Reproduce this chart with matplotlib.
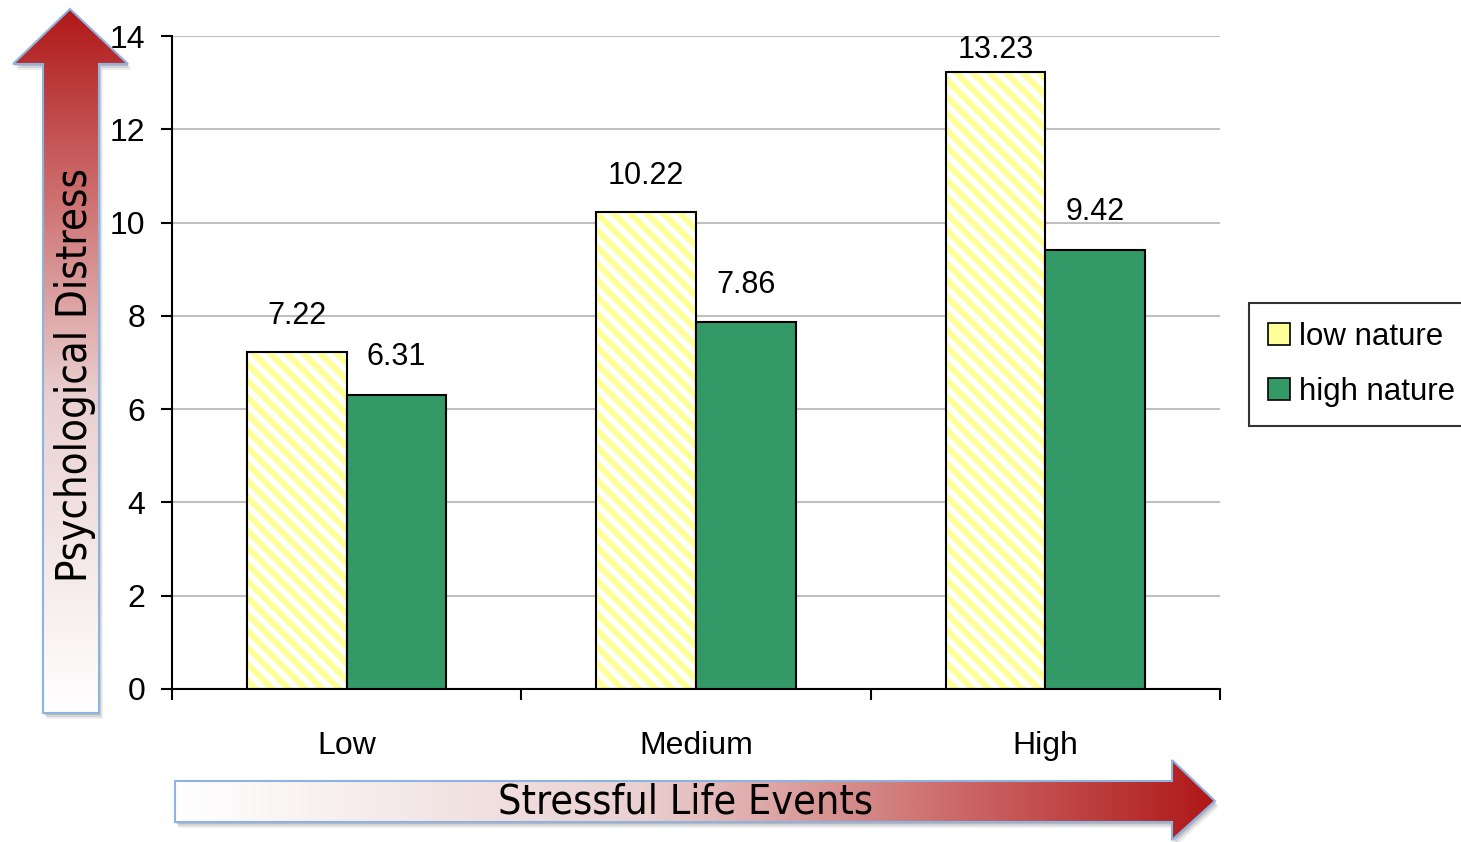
import matplotlib as mpl
mpl.use("Agg")
import matplotlib.pyplot as plt
import numpy as np
from matplotlib.patches import Polygon, Patch
from matplotlib.colors import LinearSegmentedColormap

# Data
categories = ["Low", "Medium", "High"]
low_nature = [7.22, 10.22, 13.23]
high_nature = [6.31, 7.86, 9.42]
yticks = [0, 2, 4, 6, 8, 10, 12, 14]

yellow = "#ffff99"
green = "#339966"

plt.rcParams["font.family"] = ["Liberation Sans", "DejaVu Sans"]
plt.rcParams["hatch.linewidth"] = 4.5

fig = plt.figure(figsize=(14.61, 8.42), dpi=100)

# background layer in pixel units for the two gradient arrows
bg = fig.add_axes([0, 0, 1, 1], zorder=0)
bg.set_xlim(0, 1461)
bg.set_ylim(842, 0)
bg.axis("off")

red_fade = LinearSegmentedColormap.from_list(
    "red_fade", [(0, "#ffffff"), (0.45, "#ead0d0"), (0.75, "#cc6a6a"), (1, "#b01818")])


def gradient_arrow(pts, horizontal):
    pts = np.array(pts, float)
    for k, a in [(6, 0.12), (4, 0.2), (2, 0.25)]:
        bg.add_patch(Polygon(pts + [k * 0.6, k], closed=True, fc="#707070",
                             ec="none", alpha=a, zorder=1))
    body = Polygon(pts, closed=True, fc="white", ec="none", zorder=2)
    bg.add_patch(body)
    x0, x1 = pts[:, 0].min(), pts[:, 0].max()
    y0, y1 = pts[:, 1].min(), pts[:, 1].max()
    ramp = np.linspace(0, 1, 256)
    grad = ramp[None, :] if horizontal else ramp[::-1, None]
    im = bg.imshow(grad, cmap=red_fade, extent=(x0, x1, y1, y0), origin="upper",
                   aspect="auto", interpolation="bicubic", zorder=3)
    im.set_clip_path(body)
    bg.add_patch(Polygon(pts, closed=True, fc="none", ec="#8db3e2", lw=1.5, zorder=4))
    bg.set_xlim(0, 1461)
    bg.set_ylim(842, 0)


# vertical arrow (y axis)
gradient_arrow([(70, 9), (128, 64), (99, 64), (99, 713), (43, 713), (43, 64), (13, 64)], False)
bg.text(75, 375, "Psychological Distress", rotation=90, ha="center", va="center",
        fontsize=30, family="DejaVu Sans", fontstretch="condensed", zorder=5)

# horizontal arrow (x axis)
gradient_arrow([(175, 781), (1172, 781), (1172, 760), (1215, 801), (1172, 840),
                (1172, 822), (175, 822)], True)
bg.text(685, 803, "Stressful Life Events", ha="center", va="center",
        fontsize=29.5, family="DejaVu Sans", fontstretch="condensed", zorder=5)

# main chart
ax = fig.add_axes([172 / 1461, 153 / 842, 1048 / 1461, 653 / 842], zorder=1)
ax.patch.set_alpha(0)

x = np.arange(len(categories))
w = 0.285
ax.bar(x - w / 2, low_nature, w, color="white", edgecolor=yellow, hatch="\\\\", lw=0, zorder=2)
ax.bar(x - w / 2, low_nature, w, fill=False, edgecolor="black", lw=1.5, zorder=3)
ax.bar(x + w / 2, high_nature, w, color=green, edgecolor="black", lw=1.5, zorder=3)

# value labels; the tallest one sits a little closer to its bar
low_offsets = [26, 26, 16]
for xi, v, off in zip(x - w / 2, low_nature, low_offsets):
    ax.annotate(f"{v:.2f}", (xi, v), xytext=(0, off), textcoords="offset points",
                ha="center", va="center", fontsize=22)
for xi, v in zip(x + w / 2, high_nature):
    ax.annotate(f"{v:.2f}", (xi, v), xytext=(0, 27), textcoords="offset points",
                ha="center", va="center", fontsize=22)

ax.set_ylim(0, 14)
ax.set_yticks(yticks)
ax.set_xlim(-0.5, 2.5)
ax.set_xticks([-0.5, 0.5, 1.5, 2.5])
ax.set_xticklabels([])
ax.set_xticks(x, minor=True)
ax.set_xticklabels(categories, minor=True)
ax.tick_params(axis="x", which="minor", length=0, pad=30, labelsize=23)
ax.tick_params(axis="x", which="major", direction="out", length=8, width=1.5)
ax.tick_params(axis="y", direction="out", length=8, width=1.5, pad=11, labelsize=23)

ax.yaxis.grid(True, color="#bfbfbf", lw=1.5)
ax.set_axisbelow(True)
for s in ["top", "right"]:
    ax.spines[s].set_visible(False)
for s in ["left", "bottom"]:
    ax.spines[s].set_linewidth(1.5)

handles = [Patch(fc=yellow, ec="black", lw=1.2), Patch(fc=green, ec="black", lw=1.2)]
leg = fig.legend(handles, ["low nature", "high nature"], loc="upper left",
                 bbox_to_anchor=(1249 / 1461, 1 - 303 / 842), fontsize=22.5,
                 fancybox=False, handlelength=0.7, handleheight=0.7,
                 handletextpad=0.3, borderpad=0.6, labelspacing=0.8, borderaxespad=0)
leg.get_frame().set_edgecolor("black")
leg.get_frame().set_linewidth(1.5)

fig.savefig("out.png", dpi=100)
